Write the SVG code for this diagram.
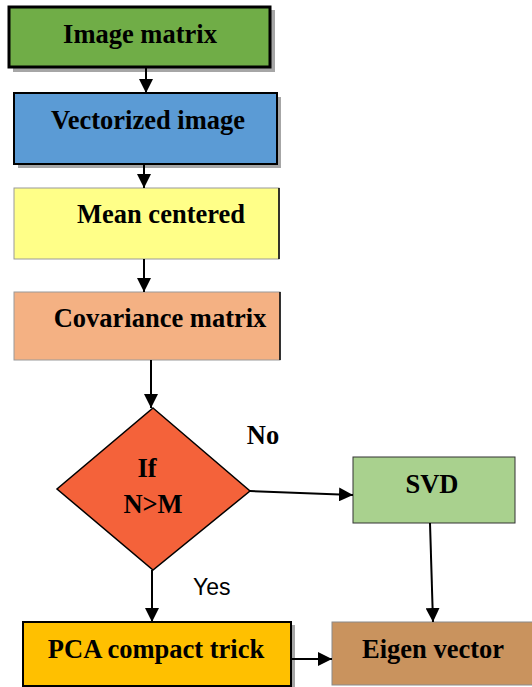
<svg xmlns="http://www.w3.org/2000/svg" width="532" height="687" viewBox="0 0 532 687">
<defs>
<marker id="ah" markerWidth="14" markerHeight="14" refX="14" refY="7" orient="auto" markerUnits="userSpaceOnUse">
<path d="M0,0 L14,7 L0,14 Z" fill="#000"/>
</marker>
</defs>
<style>
.t{font-family:"Liberation Serif","Times New Roman",serif;font-weight:bold;font-size:26.5px;fill:#000;text-anchor:middle}
.y{font-family:"Liberation Sans",Arial,sans-serif;font-size:23px;fill:#000}
.sh{fill:#a6a6a6}
.c{stroke:#000;stroke-width:2;fill:none;marker-end:url(#ah)}
</style>
<rect width="532" height="687" fill="#fff"/>
<g id="n1">
<rect class="sh" x="13" y="10" width="262" height="62"/>
<rect x="9" y="7" width="261" height="60" fill="#70ad47" stroke="#000" stroke-width="3"/>
<text class="t" x="140" y="43">Image matrix</text>
</g>
<g id="n2">
<rect class="sh" x="18" y="97" width="263" height="71"/>
<rect x="14" y="93" width="263" height="71" fill="#5b9bd5" stroke="#000" stroke-width="2"/>
<text class="t" x="148" y="129">Vectorized image</text>
</g>
<g id="n3">
<rect x="14" y="188" width="265" height="71" fill="#ffff88" stroke="#9a9a9a" stroke-width="1"/>
<line x1="279" y1="188" x2="279" y2="259" stroke="#000" stroke-width="1.5"/>
<text class="t" x="161" y="223">Mean centered</text>
</g>
<g id="n4">
<rect x="14" y="292" width="266" height="68" fill="#f4b183" stroke="#9a9a9a" stroke-width="1"/>
<line x1="280" y1="292" x2="280" y2="360" stroke="#000" stroke-width="1.5"/>
<text class="t" x="160" y="327">Covariance matrix</text>
</g>
<g id="n5">
<polygon points="153,408 250,491 153,570 57,489" fill="#f4623a" stroke="#000" stroke-width="1.5"/>
<text class="t" x="147" y="477">If</text>
<text class="t" x="153" y="513">N&gt;M</text>
</g>
<g id="n6">
<rect x="353" y="457" width="162" height="66" fill="#a9d18e" stroke="#333" stroke-width="1"/>
<text class="t" x="432" y="493">SVD</text>
</g>
<g id="n7">
<rect class="sh" x="27" y="625" width="268" height="62"/>
<rect x="23" y="622" width="268" height="64" fill="#ffc000" stroke="#000" stroke-width="2"/>
<text class="t" x="156" y="658">PCA compact trick</text>
</g>
<g id="n8">
<rect x="332" y="622" width="205" height="63" fill="#c9935e" stroke="#8a8a8a" stroke-width="1"/>
<text class="t" x="433" y="658">Eigen vector</text>
</g>
<g id="edges">
<line class="c" x1="146" y1="67" x2="146" y2="93"/>
<line class="c" x1="144" y1="164" x2="144" y2="188"/>
<line class="c" x1="144" y1="259" x2="144" y2="292"/>
<line class="c" x1="151" y1="360" x2="151" y2="408"/>
<polyline class="c" points="250,491 300,493 353,495"/>
<line class="c" x1="430" y1="523" x2="433" y2="622"/>
<line class="c" x1="152" y1="570" x2="152" y2="622"/>
<line class="c" x1="291" y1="659" x2="332" y2="659"/>
<text class="t" x="263" y="444">No</text>
<text class="y" x="193" y="595">Yes</text>
</g>
</svg>
